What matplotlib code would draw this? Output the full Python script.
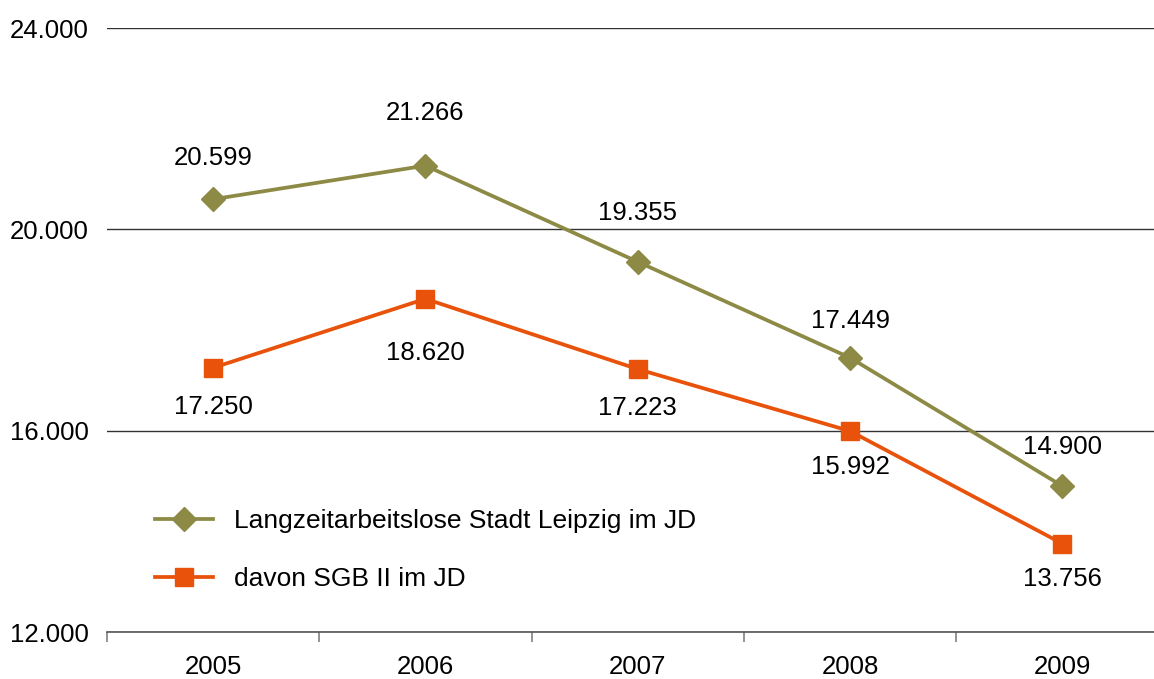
from matplotlib import pyplot
from matplotlib.ticker import FuncFormatter

years = ["2005", "2006", "2007", "2008", "2009"]
langzeit = [20599, 21266, 19355, 17449, 14900]
sgb2 = [17250, 18620, 17223, 15992, 13756]
label_langzeit = "Langzeitarbeitslose Stadt Leipzig im JD"
label_sgb2 = "davon SGB II im JD"

olive = "#8C8A45"
orange = "#E8520A"
fs = 18.5

pyplot.rcParams["font.family"] = ["Liberation Sans", "DejaVu Sans"]

fig = pyplot.figure(figsize=(11.54, 6.79), dpi=100)
ax = fig.add_axes([0.0927, 0.0692, 0.9199, 0.8895])

x = list(range(len(years)))
ax.plot(x, langzeit, color=olive, linewidth=2.7, marker="D",
        markersize=12, label=label_langzeit, zorder=3)
ax.plot(x, sgb2, color=orange, linewidth=2.7, marker="s",
        markersize=13, label=label_sgb2, zorder=3)


def fmt(v):
    return f"{v:,}".replace(",", ".")


# pixel offsets of value labels
off_top = [41, 53, 49, 37, 39]
off_bot = [39, 54, 39, 36, 35]
for i, v in enumerate(langzeit):
    ax.annotate(fmt(v), (i, v), xytext=(0, off_top[i]),
                textcoords="offset pixels", ha="center", va="center",
                fontsize=fs)
for i, v in enumerate(sgb2):
    ax.annotate(fmt(v), (i, v), xytext=(0, -off_bot[i]),
                textcoords="offset pixels", ha="center", va="center",
                fontsize=fs)

ax.set_xlim(-0.5, 4.5)
ax.set_ylim(12000, 24000)
ax.set_yticks([12000, 16000, 20000, 24000])
ax.yaxis.set_major_formatter(FuncFormatter(lambda v, p: fmt(int(v))))
ax.set_xticks(x)
ax.set_xticklabels(years)
ax.set_xticks([-0.5, 0.5, 1.5, 2.5, 3.5], minor=True)
ax.tick_params(axis="x", which="major", length=0, pad=16.5, labelsize=fs)
ax.tick_params(axis="x", which="minor", length=7, color="#808080",
               width=1.2)
ax.tick_params(axis="y", length=0, pad=13, labelsize=fs)

ax.grid(axis="y", color="#333333", linewidth=1.0)
ax.set_axisbelow(True)
for s in ["top", "right", "left"]:
    ax.spines[s].set_visible(False)
ax.spines["bottom"].set_color("#555555")
ax.spines["bottom"].set_linewidth(1.2)

ax.legend(loc="center left", bbox_to_anchor=(0.1225, 0.19),
          bbox_transform=fig.transFigure, frameon=False, fontsize=19,
          handlelength=2.2, handletextpad=0.8, labelspacing=1.3,
          borderpad=0)

fig.savefig("out.png", dpi=100)
